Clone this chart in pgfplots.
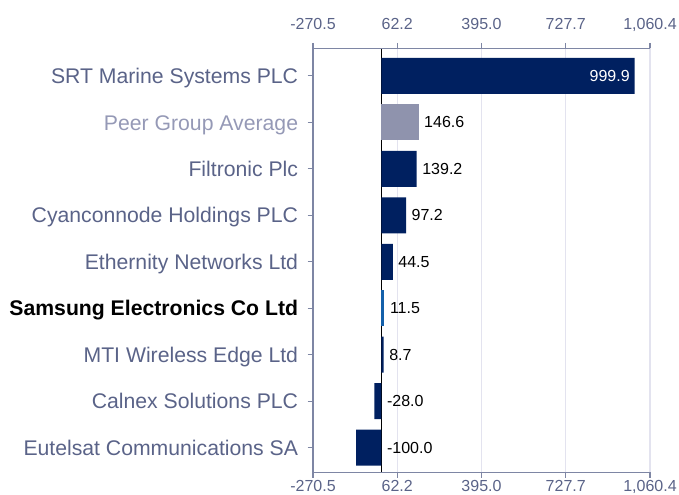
\documentclass[border=0pt]{standalone}
\usepackage{fontspec}
\setmainfont{Liberation Sans}
\usepackage{pgfplots}
\pgfplotsset{compat=1.18}
\definecolor{navy}{HTML}{002060}
\definecolor{peer}{HTML}{8F93AD}
\definecolor{sams}{HTML}{1460AA}
\definecolor{labc}{HTML}{5A6388}
\definecolor{peertxt}{HTML}{9599B6}
\definecolor{axisc}{HTML}{7E86A4}
\definecolor{gridc}{HTML}{E3E3EF}
\begin{document}
\begin{tikzpicture}
\pgfplotsset{
  common/.style={
    scale only axis, width=252.75pt, height=318pt,
    xmin=-270.5, xmax=1060.4,
    ymin=-0.596, ymax=8.53, y dir=reverse,
    xtick={-270.5,62.2,395.0,727.7,1060.4},
    xticklabels={-270.5,62.2,395.0,727.7,{1,060.4}},
    tick align=outside, major tick length=4pt,
    tick style={draw=axisc, line width=0.8pt},
    axis line style={draw=axisc, line width=0.8pt},
    xticklabel style={font=\fontsize{12}{14}\selectfont, text=labc, inner sep=0pt, text depth=0pt},
  },
}
\begin{axis}[common, name=main,
  axis y line*=left, axis x line*=bottom,
  xticklabel style={yshift=-2pt},
  ytick={0,...,8},
  yticklabels={SRT Marine Systems PLC,
    {\textcolor{peertxt}{Peer Group Average}},
    Filtronic Plc, Cyanconnode Holdings PLC, Ethernity Networks Ltd,
    {\textcolor{black}{\bfseries Samsung Electronics Co Ltd}},
    MTI Wireless Edge Ltd, Calnex Solutions PLC, Eutelsat Communications SA},
  yticklabel style={font=\fontsize{15.9}{18}\selectfont, text=labc, anchor=east, inner sep=0pt, xshift=-7pt, text height=11.4pt, text depth=0pt},
  xmajorgrids, grid style={gridc, line width=0.8pt},
  extra x ticks={0}, extra x tick labels={\relax},
  extra x tick style={grid style={black, line width=0.8pt}, major tick length=0pt},
  bar width=27pt, bar shift=0pt,
]
\addplot[xbar, fill=navy, draw=none] coordinates {(999.9,0) (139.2,2) (97.2,3) (44.5,4) (8.7,6) (-28.0,7) (-100.0,8)};
\addplot[xbar, fill=peer, draw=none] coordinates {(146.6,1)};
\addplot[xbar, fill=sams, draw=none] coordinates {(11.5,5)};
\addplot[only marks, mark=none, nodes near coords, point meta=explicit symbolic,
  nodes near coords style={anchor=west, xshift=4pt, inner sep=0pt, font=\fontsize{12}{14}\selectfont, text=black}]
  coordinates {(146.6,1)[146.6] (139.2,2)[139.2] (97.2,3)[97.2] (44.5,4)[44.5] (11.5,5)[11.5] (8.7,6)[8.7] (0,7)[-28.0] (0,8)[-100.0]};
\addplot[only marks, mark=none, nodes near coords, point meta=explicit symbolic,
  nodes near coords style={anchor=east, xshift=-3.5pt, inner sep=0pt, font=\fontsize{12}{14}\selectfont, text=white}]
  coordinates {(999.9,0)[999.9]};
\end{axis}
\begin{axis}[common, at={(main.south west)}, anchor=south west,
  axis x line*=top, axis y line=none,
  xticklabel style={yshift=9.5pt},
]
\end{axis}
\pgfresetboundingbox
\path ([xshift=-234.75pt, yshift=36.2pt]main.north west) rectangle ([xshift=21.75pt, yshift=-16.7pt]main.south east);
\end{tikzpicture}
\end{document}
